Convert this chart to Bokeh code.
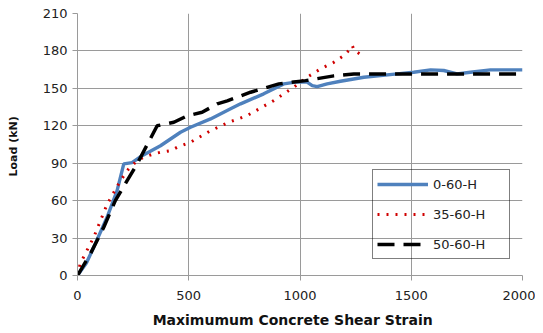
from bokeh.plotting import figure
from bokeh.models import Legend, LegendItem, Range1d, FixedTicker
from bokeh.embed import file_html
from bokeh.resources import INLINE

# 0-60-H
x_a = [0, 40, 73, 133, 178, 208, 245, 290, 373, 463, 508, 598, 688, 733, 837, 927, 980, 1032,
       1055, 1077, 1122, 1182, 1287, 1437, 1511, 1587, 1646, 1706, 1766, 1856, 2000]
y_a = [0, 10, 22.7, 46.7, 68, 89.5, 90.5, 96, 104, 114.8, 118.8, 125.5, 133.6, 137.6, 145.6, 153.6, 155, 155,
       152.2, 151.4, 153.6, 155.7, 158.9, 161.6, 162.9, 164.8, 164.3, 161.6, 162.9, 164.8, 164.8]
# 35-60-H
x_b = [0, 12, 73, 133, 193, 230, 268, 298, 343, 373, 418, 448, 508, 598, 680, 763, 882, 972,
       1032, 1092, 1152, 1197, 1219, 1235, 1245, 1257, 1269]
y_b = [0, 9.4, 30.7, 57, 76, 85.5, 92, 94.8, 97.5, 98.8, 100, 102.8, 106.8, 116, 122.8, 128.2, 140.2, 150.9,
       158.9, 165.6, 170.9, 176.3, 180.3, 184.3, 179.7, 179, 177.6]
# 50-60-H
x_c = [0, 58, 118, 170, 223, 268, 358, 433, 493, 560, 628, 673, 778, 905, 1025, 1152, 1242, 1400, 1600, 1800, 2000]
y_c = [0, 17.4, 38.7, 60, 76, 89.5, 120, 122.8, 128, 130.8, 137.6, 140, 146.9, 153.6, 156.2, 160, 161.6,
       161.6, 161.6, 161.6, 161.6]

series_names = ["0-60-H", "35-60-H", "50-60-H"]
x_ticks = [0, 500, 1000, 1500, 2000]
y_ticks = [0, 30, 60, 90, 120, 150, 180, 210]

p = figure(width=535, height=331, output_backend="svg", toolbar_location=None,
           x_range=Range1d(0, 2000), y_range=Range1d(0, 210),
           min_border_left=77, min_border_right=13, min_border_top=13, min_border_bottom=56)
p.outline_line_color = None
p.background_fill_color = "white"

grid_col = "#9a9a9a"
for ax in (p.xaxis[0], p.yaxis[0]):
    ax.axis_line_color = grid_col
    ax.major_tick_line_color = grid_col
    ax.minor_tick_line_color = None
    ax.major_tick_in = 0
    ax.major_tick_out = 5
    ax.major_label_text_font = "DejaVu Sans"
    ax.major_label_text_font_size = "13px"
    ax.major_label_text_color = "#222222"
    ax.axis_label_text_font = "DejaVu Sans"
    ax.axis_label_text_font_style = "bold"
    ax.axis_label_text_color = "#111111"

p.xaxis.ticker = FixedTicker(ticks=x_ticks)
p.yaxis.ticker = FixedTicker(ticks=y_ticks)
p.xaxis.axis_label = "Maximumum  Concrete  Shear  Strain"
p.yaxis.axis_label = "Load  (kN)"
p.xaxis.axis_label_text_font_size = "14px"
p.yaxis.axis_label_text_font_size = "11px"
p.xaxis.major_label_standoff = 10
p.yaxis.major_label_standoff = 5
p.xaxis.axis_label_standoff = 9
p.yaxis.axis_label_standoff = 20

p.xgrid.grid_line_color = grid_col
p.ygrid.grid_line_color = grid_col
p.xgrid.ticker = FixedTicker(ticks=x_ticks)
p.ygrid.ticker = FixedTicker(ticks=y_ticks)

r_a = p.line(x_a, y_a, line_color="#4f81bd", line_width=3.4)
r_b = p.line(x_b, y_b, line_color="#d00000", line_width=3, line_dash="2 7")
r_c = p.line(x_c, y_c, line_color="black", line_width=3.5, line_dash="17 9")

legend = Legend(items=[LegendItem(label=series_names[0], renderers=[r_a]),
                       LegendItem(label=series_names[1], renderers=[r_b]),
                       LegendItem(label=series_names[2], renderers=[r_c])],
                location=(295, 16), orientation="vertical")
legend.border_line_color = "black"
legend.border_line_width = 1
legend.background_fill_alpha = 0
legend.padding = 4
legend.spacing = 10
legend.label_height = 20
legend.glyph_height = 20
legend.glyph_width = 51
legend.label_standoff = 5
legend.label_width = 72
legend.label_text_font = "DejaVu Sans"
legend.label_text_font_size = "13px"
legend.label_text_color = "#222222"
legend.margin = 0
p.add_layout(legend, "center")

open("out.html", "w").write(file_html(p, INLINE))
